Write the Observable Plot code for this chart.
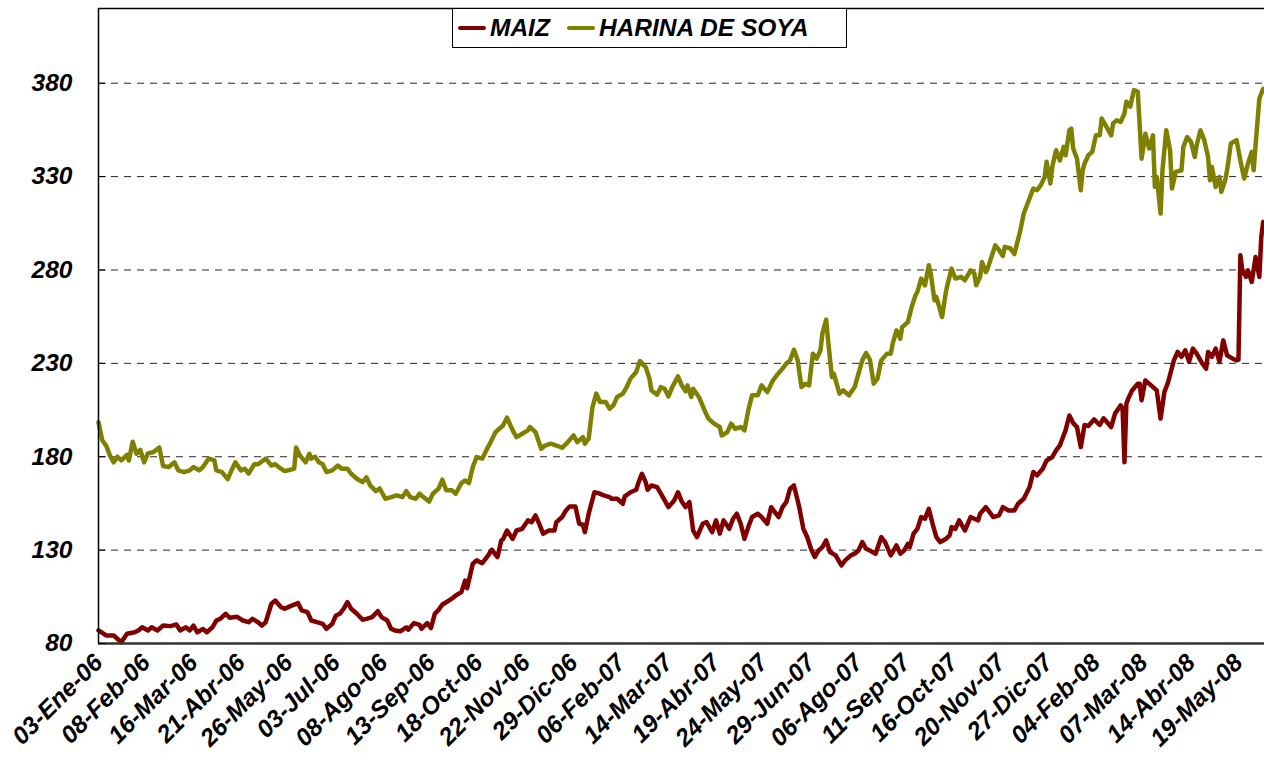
<!DOCTYPE html>
<html>
<head>
<meta charset="utf-8">
<script src="https://cdn.jsdelivr.net/npm/d3@7"></script>
<script src="https://cdn.jsdelivr.net/npm/@observablehq/plot@0.6"></script>
<style>
  body { margin: 0; background: #fff; }
  #wrap { position: relative; width: 1264px; height: 767px; overflow: hidden;
          font-family: "Liberation Sans", Arial, sans-serif; }
  #legend { position: absolute; left: 452px; top: 8px; width: 395px; height: 40px;
            box-sizing: border-box; border: 1.5px solid #000; background: #fff;
            display: flex; align-items: center; padding-left: 5px;
            font-size: 24.5px; font-weight: bold; font-style: italic; color: #000; }
  .sw { display: inline-block; width: 28px; height: 4px; border-radius: 2px; margin-right: 4px; }
</style>
</head>
<body>
<div id="wrap"></div>
<script>
// Series (trading-day index, value)
const maizPoints = [[0,87],[4,84.3],[8,84.3],[12,80.7],[15,85.2],[19,86],[21,87],[23,88.7],[26,87],[28,88.7],[31,87],[34,89.6],[38,89.3],[41,90.2],[43,87],[46,88.7],[48,87],[50,89.6],[52,86],[55,87.8],[57,86],[60,88.7],[62,92.3],[64,93.2],[67,95.9],[69,93.8],[73,94.3],[76,92.3],[79,91.4],[81,93.2],[84,91.4],[86,89.6],[88,91.4],[91,101.3],[93,103],[96,99.5],[98,98.6],[101,100],[105,101.6],[107,97.7],[110,96.8],[112,92.3],[115,91.4],[118,90.5],[120,87.9],[123,90.5],[125,95],[127,95.9],[129,98.6],[131,102.1],[133,98.6],[136,95.9],[139,92.7],[141,93.2],[144,94.1],[147,97.3],[149,94.1],[152,92.3],[154,87.9],[156,87],[159,86.6],[162,88.7],[163,87.4],[166,90.9],[169,90],[170,87.9],[173,90.9],[175,88.3],[177,95.9],[179,98],[181,100.9],[183,102.1],[186,104],[188,105.7],[191,107.5],[193,113.7],[194,109.6],[197,122.7],[199,124.5],[202,123],[205,127],[207,130.2],[210,126.3],[212,135.2],[213,136],[215,140.5],[218,136],[220,140.5],[223,141.4],[226,145.9],[228,145],[230,148.6],[232,144],[234,138.8],[237,140.5],[240,140.5],[241,145],[244,147.7],[246,151.2],[248,153.4],[251,153.4],[253,144.1],[255,143.6],[256,139.6],[258,149.5],[261,161],[263,160.5],[266,159.3],[269,158.4],[270,157.5],[273,157.5],[276,154.8],[277,158.8],[280,161],[283,162.3],[284,165.5],[286,170.9],[288,166.4],[289,162.3],[291,164.6],[294,163.7],[296,160.2],[298,156.6],[300,153],[303,156.6],[305,161],[307,156],[309,153],[311,155.7],[313,140.5],[315,137],[318,144.1],[320,145],[323,139.6],[325,145.9],[327,138.8],[329,145.9],[332,141.4],[334,146.8],[336,149.5],[338,144.1],[340,136],[342,142.4],[344,147.7],[347,149.5],[349,147.7],[352,144.1],[354,153],[356,150.3],[358,147.7],[360,153],[362,155.7],[364,162.9],[366,164.6],[368,156.6],[369,152.1],[371,141.4],[373,137],[375,130.7],[377,126.3],[379,129.8],[381,131.6],[383,135.2],[385,129],[388,127.2],[391,121.8],[393,124.5],[396,127.2],[398,128.1],[400,129.8],[402,134.3],[404,130.7],[406,129.8],[409,128.1],[412,137],[414,134.3],[417,127.2],[420,132.5],[422,128.1],[424,129.8],[426,133.4],[427,131.6],[429,138.8],[431,141.4],[433,147.7],[435,146.8],[437,152.1],[439,144.1],[441,137],[443,134.3],[446,136],[448,137.9],[449,142.3],[451,141.4],[453,145.9],[455,142.3],[456,140.5],[459,147.7],[461,146.8],[463,145.9],[464,149.5],[467,153],[469,150.3],[471,147.7],[474,148.6],[476,153],[479,151.2],[482,151.2],[484,154.8],[487,157.5],[490,163.7],[492,171.8],[494,170],[497,173.6],[499,178],[502,179.8],[504,183.4],[506,186.1],[507,188.8],[509,194.1],[511,202.1],[513,198],[515,195.9],[517,185.2],[519,197],[521,196.5],[524,200],[527,197],[529,200.6],[533,195.9],[535,203],[538,207.5],[539,206],[540,177.1],[541,208.4],[542,211.1],[544,215.5],[547,219.1],[548,219.1],[549,210.2],[551,220.9],[554,218.2],[557,215.5],[559,200.4],[561,214.6],[563,220],[566,231.6],[568,236.1],[570,233.5],[572,237],[574,230.8],[576,237.9],[578,235.2],[581,229.9],[583,227.2],[584,236.1],[586,233.5],[588,237.9],[590,230.8],[592,242.3],[594,234.3],[597,232.5],[599,231.6],[600,232],[601,287.9],[602,279.8],[604,276.3],[605,279.8],[607,273.6],[609,286.9],[611,276.3],[612,297.7],[613,305.7]];

const harinaPoints = [[0,198.5],[2,188.7],[4,186],[6,180.7],[8,177],[10,180],[12,178],[15,181],[16,178],[18,188],[20,181.6],[22,183.7],[24,177],[26,181.8],[29,182.5],[32,185],[34,175],[37,174.5],[40,177],[42,172.7],[45,171.8],[48,172.7],[50,174.5],[53,172.7],[55,174.5],[58,179],[61,178],[62,172.7],[65,171.8],[68,168],[70,172.7],[72,177],[75,172.7],[77,173.6],[79,171],[82,176],[84,176],[88,179],[91,175.3],[93,176],[96,173.6],[98,172.3],[101,173],[103,173.6],[104,185],[106,180.7],[109,177],[111,181.6],[112,179],[114,180],[116,177],[118,176],[120,171.8],[123,172.7],[126,175.3],[128,173.6],[131,173.6],[133,170.9],[136,168.2],[139,166.4],[141,169],[143,164.6],[146,161.6],[148,163],[151,157.5],[154,158.4],[157,159.3],[160,158.4],[162,161.6],[164,158.4],[167,157.5],[169,160.2],[171,158.4],[174,156],[176,160.2],[179,162.9],[181,167.7],[183,162],[186,162],[188,160.2],[191,165.9],[193,167.3],[195,165.9],[197,174.5],[199,179.8],[202,179],[205,185.2],[206,187],[209,193.2],[211,195],[213,196.8],[215,200.9],[218,194.1],[220,190.5],[223,192.3],[226,194.1],[227,195.9],[230,193.2],[233,184.3],[235,186],[238,187],[241,186],[244,184.8],[247,187.8],[250,191.4],[252,187.8],[255,190.5],[256,187],[258,189.7],[260,206.6],[262,213.8],[264,209.3],[267,209.3],[269,205.7],[271,207.5],[273,212],[276,213.8],[278,217.3],[280,221.8],[283,225.4],[285,231.2],[288,228],[290,221.8],[291,215.5],[294,213.2],[296,217.3],[298,216.4],[300,212.3],[302,217.3],[305,223],[307,218.2],[309,215],[310,218.2],[312,212],[313,216.4],[316,212],[319,204.8],[321,200.4],[324,197.7],[327,195.9],[328,191.4],[331,193.2],[333,197.7],[335,195],[338,195.9],[340,194.1],[342,204.8],[344,212.9],[347,212.9],[349,218.2],[352,214.6],[355,220.9],[357,223.6],[360,227.2],[362,229.9],[364,231.6],[366,237.3],[368,231.6],[370,217.3],[372,219.1],[374,218.2],[376,235.2],[378,232.5],[380,237],[381,245.9],[383,253.4],[384,242.3],[386,222.7],[387,224.5],[390,213.8],[392,215.5],[395,212.9],[398,217.3],[399,220.9],[402,231.6],[404,235.5],[406,232],[408,219.1],[410,221.8],[412,231.6],[415,235.2],[417,235.2],[418,240.5],[420,247.7],[422,243.2],[423,249.4],[426,252.1],[428,260.2],[430,266.4],[431,268.2],[433,275.4],[435,271.8],[437,282.5],[438,278.3],[440,263.8],[441,265.6],[444,254.8],[446,268.2],[447,272.7],[449,280.7],[451,275.4],[454,276.3],[456,274.5],[459,279.8],[461,278.1],[462,271.8],[464,276.3],[465,284.3],[467,278.9],[468,280.7],[470,287],[472,293.2],[474,290.6],[476,287.4],[477,292.4],[480,291.5],[482,288.5],[483,292.4],[485,300.3],[487,310.2],[489,315.6],[491,320.9],[492,323.6],[494,322.7],[496,325.4],[498,329.8],[499,337.9],[501,326.3],[502,335.2],[504,344.1],[506,338.7],[508,345.9],[509,341.4],[511,354.8],[512,355.7],[513,345],[515,339.6],[517,322.7],[518,333.4],[519,337],[521,341.4],[523,343.2],[525,352.1],[527,352.1],[528,361.1],[530,357.5],[533,352.1],[534,358.4],[536,360.2],[538,359.3],[540,363.8],[541,370.1],[543,367.4],[545,376.3],[547,375.4],[549,339.6],[551,352.9],[553,345],[555,352.1],[556,324.5],[557,329.8],[559,310.2],[560,333.4],[562,354.8],[564,344.1],[565,323.6],[567,332.5],[570,333.4],[571,345.9],[573,351.2],[575,348.6],[577,340.5],[578,346.8],[580,354.8],[582,349.5],[584,340.5],[585,328],[586,335.2],[588,324.5],[590,329.8],[591,321.8],[593,328],[594,333.4],[596,347.7],[599,349.5],[601,338.7],[603,328.9],[605,337],[607,343.2],[608,333.4],[609,346.8],[611,371.8],[613,377]];

// Category labels (one every 25 trading days)
const tickLabels = ["03-Ene-06","08-Feb-06","16-Mar-06","21-Abr-06","26-May-06","03-Jul-06","08-Ago-06","13-Sep-06","18-Oct-06","22-Nov-06","29-Dic-06","06-Feb-07","14-Mar-07","19-Abr-07","24-May-07","29-Jun-07","06-Ago-07","11-Sep-07","16-Oct-07","20-Nov-07","27-Dic-07","04-Feb-08","07-Mar-08","14-Abr-08","19-May-08"];
const tickStep = 25;
const yTicks = [80,130,180,230,280,330,380];
const gridValues = [130,180,230,280,330,380];
const seriesNames = ["MAIZ","HARINA DE SOYA"];
const seriesColors = ["#800000","#808000"];

const font = "'Liberation Sans', Arial, sans-serif";
const chart = Plot.plot({
  width: 1264,
  height: 767,
  marginLeft: 98,
  marginRight: 0,
  marginTop: 8,
  marginBottom: 124,
  x: {domain: [0, 613.7], axis: null},
  y: {domain: [80, 420], axis: null},
  style: {fontFamily: font, background: "#fff", color: "#000", overflow: "visible"},
  marks: [
    Plot.ruleY(gridValues, {stroke: "#000", strokeWidth: 1, strokeDasharray: "7,6", strokeOpacity: 0.85}),
    Plot.line(harinaPoints, {x: d => d[0], y: d => d[1], stroke: seriesColors[1], strokeWidth: 4.5, strokeLinejoin: "round", strokeLinecap: "round"}),
    Plot.line(maizPoints, {x: d => d[0], y: d => d[1], stroke: seriesColors[0], strokeWidth: 4.5, strokeLinejoin: "round", strokeLinecap: "round"}),
    Plot.ruleX([0], {stroke: "#000", strokeWidth: 1.5}),
    Plot.ruleY([420], {stroke: "#000", strokeWidth: 1.5}),
    Plot.ruleY([80], {stroke: "#333", strokeWidth: 2.5}),
    Plot.ruleY(yTicks, {x1: 0, x2: 4, stroke: "#000", strokeWidth: 1}),
    Plot.axisY(yTicks, {anchor: "left", tickSize: 0, tickPadding: 26, fontSize: 24.5, fontWeight: "bold", fontStyle: "italic", label: null, fill: "#000"}),
    Plot.text(tickLabels, {
      x: (d, i) => i * tickStep,
      frameAnchor: "bottom",
      text: d => d,
      rotate: -45,
      textAnchor: "end",
      lineAnchor: "middle",
      dx: 0,
      dy: 15,
      fontSize: 24.5,
      fontWeight: "bold",
      fontStyle: "italic",
      fill: "#000"
    })
  ]
});

const wrap = document.getElementById("wrap");
wrap.appendChild(chart);

const legend = document.createElement("div");
legend.id = "legend";
seriesNames.forEach((name, i) => {
  const sw = document.createElement("span");
  sw.className = "sw";
  sw.style.background = seriesColors[i];
  if (i > 0) sw.style.marginLeft = "17px";
  const t = document.createElement("span");
  t.textContent = name;
  legend.appendChild(sw);
  legend.appendChild(t);
});
wrap.appendChild(legend);
</script>
</body>
</html>
